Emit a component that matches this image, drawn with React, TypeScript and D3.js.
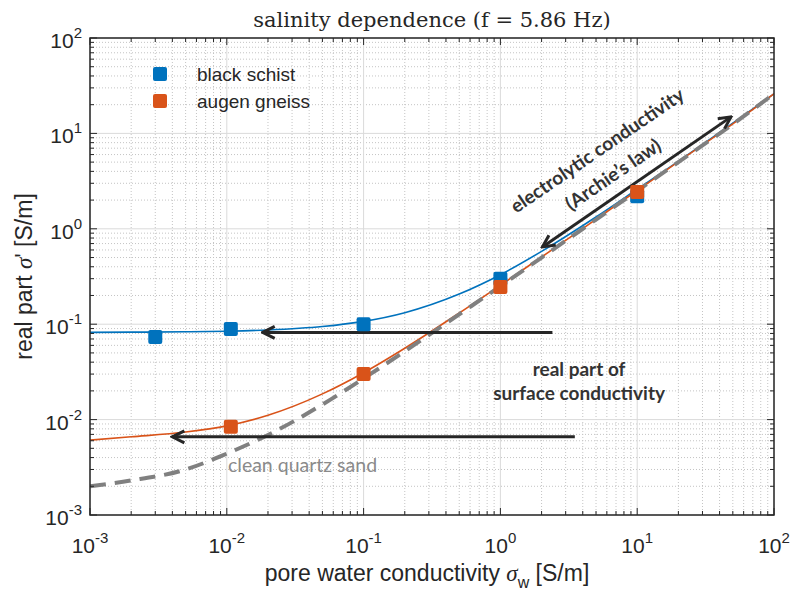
import React, { useEffect, useRef } from "react";
import * as d3 from "d3";

// sampled pore water conductivity (S/m) for the model curves
const sigmaW = [0.001, 0.002, 0.005, 0.01, 0.02, 0.05, 0.1, 0.2, 0.5, 1, 2, 5, 10, 20, 50, 100];
const schistCurve = [0.082, 0.0825, 0.0833, 0.0845, 0.087, 0.0945, 0.107, 0.132, 0.207, 0.33, 0.58, 1.33, 2.6, 5.1, 12.8, 26];
const gneissCurve = [0.0061, 0.0066, 0.0074, 0.0086, 0.0111, 0.0186, 0.031, 0.056, 0.131, 0.256, 0.506, 1.26, 2.52, 5.05, 12.6, 26];
const sandCurve = [0.002, 0.0023, 0.003, 0.0044, 0.0069, 0.0144, 0.027, 0.052, 0.127, 0.25, 0.5, 1.25, 2.5, 5.0, 12.5, 26];

// measured points
const schistX = [0.003, 0.0107, 0.1, 1, 10];
const schistY = [0.0735, 0.089, 0.1, 0.3, 2.2];
const gneissX = [0.0107, 0.1, 1, 10];
const gneissY = [0.0084, 0.03, 0.245, 2.43];

const decades = [-3, -2, -1, 0, 1, 2];
const legendNames = ["black schist", "augen gneiss"];

const BLUE = "#0072BD";
const ORANGE = "#D95319";
const DARK = "#262626";

const App = () => {
  const ref = useRef<SVGSVGElement>(null);

  useEffect(() => {
    document.body.style.margin = "0";
    const width = 792;
    const height = 595;
    const margin = { top: 38, left: 90, right: 18, bottom: 80 };
    const iw = width - margin.left - margin.right;
    const ih = height - margin.top - margin.bottom;

    const svg = d3.select(ref.current).attr("width", width).attr("height", height);
    svg.selectAll("*").remove();

    const x = d3.scaleLog().domain([1e-3, 1e2]).range([0, iw]);
    const y = d3.scaleLog().domain([1e-3, 1e2]).range([ih, 0]);

    const defs = svg.append("defs");
    defs.append("clipPath").attr("id", "clip").append("rect").attr("width", iw).attr("height", ih);
    defs
      .append("marker")
      .attr("id", "chev")
      .attr("viewBox", "0 0 16 16")
      .attr("refX", 14)
      .attr("refY", 8)
      .attr("markerWidth", 16)
      .attr("markerHeight", 16)
      .attr("markerUnits", "userSpaceOnUse")
      .attr("orient", "auto-start-reverse")
      .append("path")
      .attr("d", "M2,2 L14,8 L2,14")
      .attr("fill", "none")
      .attr("stroke", DARK)
      .attr("stroke-width", 3);

    const g = svg.append("g").attr("transform", `translate(${margin.left},${margin.top})`);

    // grid
    const minor: number[] = [];
    decades.slice(0, -1).forEach((d) => {
      for (let k = 2; k <= 9; k++) minor.push(k * Math.pow(10, d));
    });
    const majors = decades.map((d) => Math.pow(10, d));

    const grid = g.append("g");
    grid
      .selectAll("line.mx")
      .data(minor)
      .enter()
      .append("line")
      .attr("x1", (d) => x(d))
      .attr("x2", (d) => x(d))
      .attr("y1", 0)
      .attr("y2", ih)
      .attr("stroke", "#c4c4c4")
      .attr("stroke-dasharray", "1,2");
    grid
      .selectAll("line.my")
      .data(minor)
      .enter()
      .append("line")
      .attr("y1", (d) => y(d))
      .attr("y2", (d) => y(d))
      .attr("x1", 0)
      .attr("x2", iw)
      .attr("stroke", "#c4c4c4")
      .attr("stroke-dasharray", "1,2");
    grid
      .selectAll("line.Mx")
      .data(majors)
      .enter()
      .append("line")
      .attr("x1", (d) => x(d))
      .attr("x2", (d) => x(d))
      .attr("y1", 0)
      .attr("y2", ih)
      .attr("stroke", "#dadada");
    grid
      .selectAll("line.My")
      .data(majors)
      .enter()
      .append("line")
      .attr("y1", (d) => y(d))
      .attr("y2", (d) => y(d))
      .attr("x1", 0)
      .attr("x2", iw)
      .attr("stroke", "#dadada");

    // curves
    const plot = g.append("g").attr("clip-path", "url(#clip)");
    const line = d3
      .line<number>()
      .x((d, i) => x(sigmaW[i]))
      .y((d) => y(d))
      .curve(d3.curveMonotoneX);

    plot.append("path").datum(schistCurve).attr("d", line).attr("fill", "none").attr("stroke", BLUE).attr("stroke-width", 1.6);
    plot.append("path").datum(gneissCurve).attr("d", line).attr("fill", "none").attr("stroke", ORANGE).attr("stroke-width", 1.6);
    plot
      .append("path")
      .datum(sandCurve)
      .attr("d", line)
      .attr("fill", "none")
      .attr("stroke", "#808080")
      .attr("stroke-width", 4)
      .attr("stroke-dasharray", "16,9");

    // arrows
    const arrows = [
      { x1: 2.4, y1: 0.082, x2: 0.0183, y2: 0.082, both: false },
      { x1: 3.5, y1: 0.0066, x2: 0.004, y2: 0.0066, both: false },
      { x1: 2.03, y1: 0.645, x2: 48.5, y2: 14.9, both: true },
    ];
    arrows.forEach((a) => {
      const p = g
        .append("line")
        .attr("x1", x(a.x1))
        .attr("y1", y(a.y1))
        .attr("x2", x(a.x2))
        .attr("y2", y(a.y2))
        .attr("stroke", DARK)
        .attr("stroke-width", 3)
        .attr("marker-end", "url(#chev)");
      if (a.both) p.attr("marker-start", "url(#chev)");
    });

    // markers
    const sq = 14;
    g.selectAll("rect.bs")
      .data(schistX)
      .enter()
      .append("rect")
      .attr("x", (d) => x(d) - sq / 2)
      .attr("y", (d, i) => y(schistY[i]) - sq / 2)
      .attr("width", sq)
      .attr("height", sq)
      .attr("rx", 2)
      .attr("fill", BLUE);
    g.selectAll("rect.ag")
      .data(gneissX)
      .enter()
      .append("rect")
      .attr("x", (d) => x(d) - sq / 2)
      .attr("y", (d, i) => y(gneissY[i]) - sq / 2)
      .attr("width", sq)
      .attr("height", sq)
      .attr("rx", 2)
      .attr("fill", ORANGE);

    // annotations
    const annFont = "Lato, 'Open Sans', sans-serif";
    g.append("text")
      .attr("x", x(3.76))
      .attr("y", y(0.0286))
      .attr("text-anchor", "middle")
      .style("font", `bold 19px ${annFont}`)
      .attr("fill", "#333")
      .text("real part of");
    g.append("text")
      .attr("x", x(3.76))
      .attr("y", y(0.016))
      .attr("text-anchor", "middle")
      .style("font", `bold 19px ${annFont}`)
      .attr("fill", "#333")
      .text("surface conductivity");
    g.append("text")
      .attr("x", x(0.0102))
      .attr("y", y(0.00282))
      .style("font", `19.5px ${annFont}`)
      .attr("fill", "#8a8a8a")
      .text("clean quartz sand");
    const rot = [
      { t: "electrolytic conductivity", xv: 5.43, yv: 5.8 },
      { t: "(Archie\u2019s law)", xv: 7.1, yv: 3.25 },
    ];
    rot.forEach((r) => {
      g.append("text")
        .attr("transform", `translate(${x(r.xv)},${y(r.yv)}) rotate(-34.3)`)
        .attr("text-anchor", "middle")
        .style("font", `bold 19px ${annFont}`)
        .attr("fill", "#333")
        .text(r.t);
    });

    // ticks
    const ax = g.append("g").attr("stroke", DARK);
    const tick = (v: number, len: number) => {
      ax.append("line").attr("x1", x(v)).attr("x2", x(v)).attr("y1", ih).attr("y2", ih - len);
      ax.append("line").attr("x1", x(v)).attr("x2", x(v)).attr("y1", 0).attr("y2", len);
      ax.append("line").attr("y1", y(v)).attr("y2", y(v)).attr("x1", 0).attr("x2", len);
      ax.append("line").attr("y1", y(v)).attr("y2", y(v)).attr("x1", iw).attr("x2", iw - len);
    };
    minor.forEach((v) => tick(v, 4));
    majors.forEach((v) => tick(v, 7));
    g.append("rect")
      .attr("width", iw)
      .attr("height", ih)
      .attr("fill", "none")
      .attr("stroke", DARK)
      .attr("stroke-width", 1.5);

    // tick labels
    const lblFont = "'Liberation Sans', Arial, sans-serif";
    decades.forEach((d) => {
      const t = g
        .append("text")
        .attr("x", x(Math.pow(10, d)))
        .attr("y", ih + 38)
        .attr("text-anchor", "middle")
        .attr("fill", DARK)
        .style("font", `21px ${lblFont}`);
      t.append("tspan").text("10");
      t.append("tspan").attr("dy", -10).style("font-size", "15px").text(String(d));

      const ty = g
        .append("text")
        .attr("x", -8)
        .attr("y", y(Math.pow(10, d)) + 10)
        .attr("text-anchor", "end")
        .attr("fill", DARK)
        .style("font", `21px ${lblFont}`);
      ty.append("tspan").text("10");
      ty.append("tspan").attr("dy", -10).style("font-size", "15px").text(String(d));
    });

    // axis labels
    const xl = svg
      .append("text")
      .attr("x", margin.left + iw / 2 - 5)
      .attr("y", 581)
      .attr("text-anchor", "middle")
      .attr("fill", DARK)
      .style("font", `23px ${lblFont}`);
    xl.append("tspan").text("pore water conductivity ");
    xl.append("tspan").style("font-style", "italic").style("font-family", "'Liberation Serif', serif").text("\u03c3");
    xl.append("tspan").attr("dy", 7).style("font-size", "16px").text("w");
    xl.append("tspan").attr("dy", -7).text(" [S/m]");

    const yl = svg
      .append("text")
      .attr("transform", `translate(32,${margin.top + ih / 2}) rotate(-90)`)
      .attr("text-anchor", "middle")
      .attr("fill", DARK)
      .style("font", `23px ${lblFont}`);
    yl.append("tspan").text("real part ");
    yl.append("tspan").style("font-style", "italic").style("font-family", "'Liberation Serif', serif").text("\u03c3");
    yl.append("tspan").text("' [S/m]");

    // title
    svg
      .append("text")
      .attr("x", margin.left + iw / 2)
      .attr("y", 27)
      .attr("text-anchor", "middle")
      .attr("fill", DARK)
      .style("font", "21px 'DejaVu Serif', 'Liberation Serif', serif")
      .text("salinity dependence (f = 5.86 Hz)");

    // legend
    const lg = svg.append("g");
    legendNames.forEach((name, i) => {
      const cy = 74 + i * 27;
      lg.append("rect")
        .attr("x", 160 - sq / 2)
        .attr("y", cy - sq / 2)
        .attr("width", sq)
        .attr("height", sq)
        .attr("rx", 2)
        .attr("fill", i === 0 ? BLUE : ORANGE);
      lg.append("text")
        .attr("x", 197)
        .attr("y", cy + 7)
        .attr("fill", DARK)
        .style("font", `19px ${lblFont}`)
        .text(name);
    });
  }, []);

  return (
    <div>
      <svg ref={ref} style={{ display: "block" }}></svg>
    </div>
  );
};

export default App;
